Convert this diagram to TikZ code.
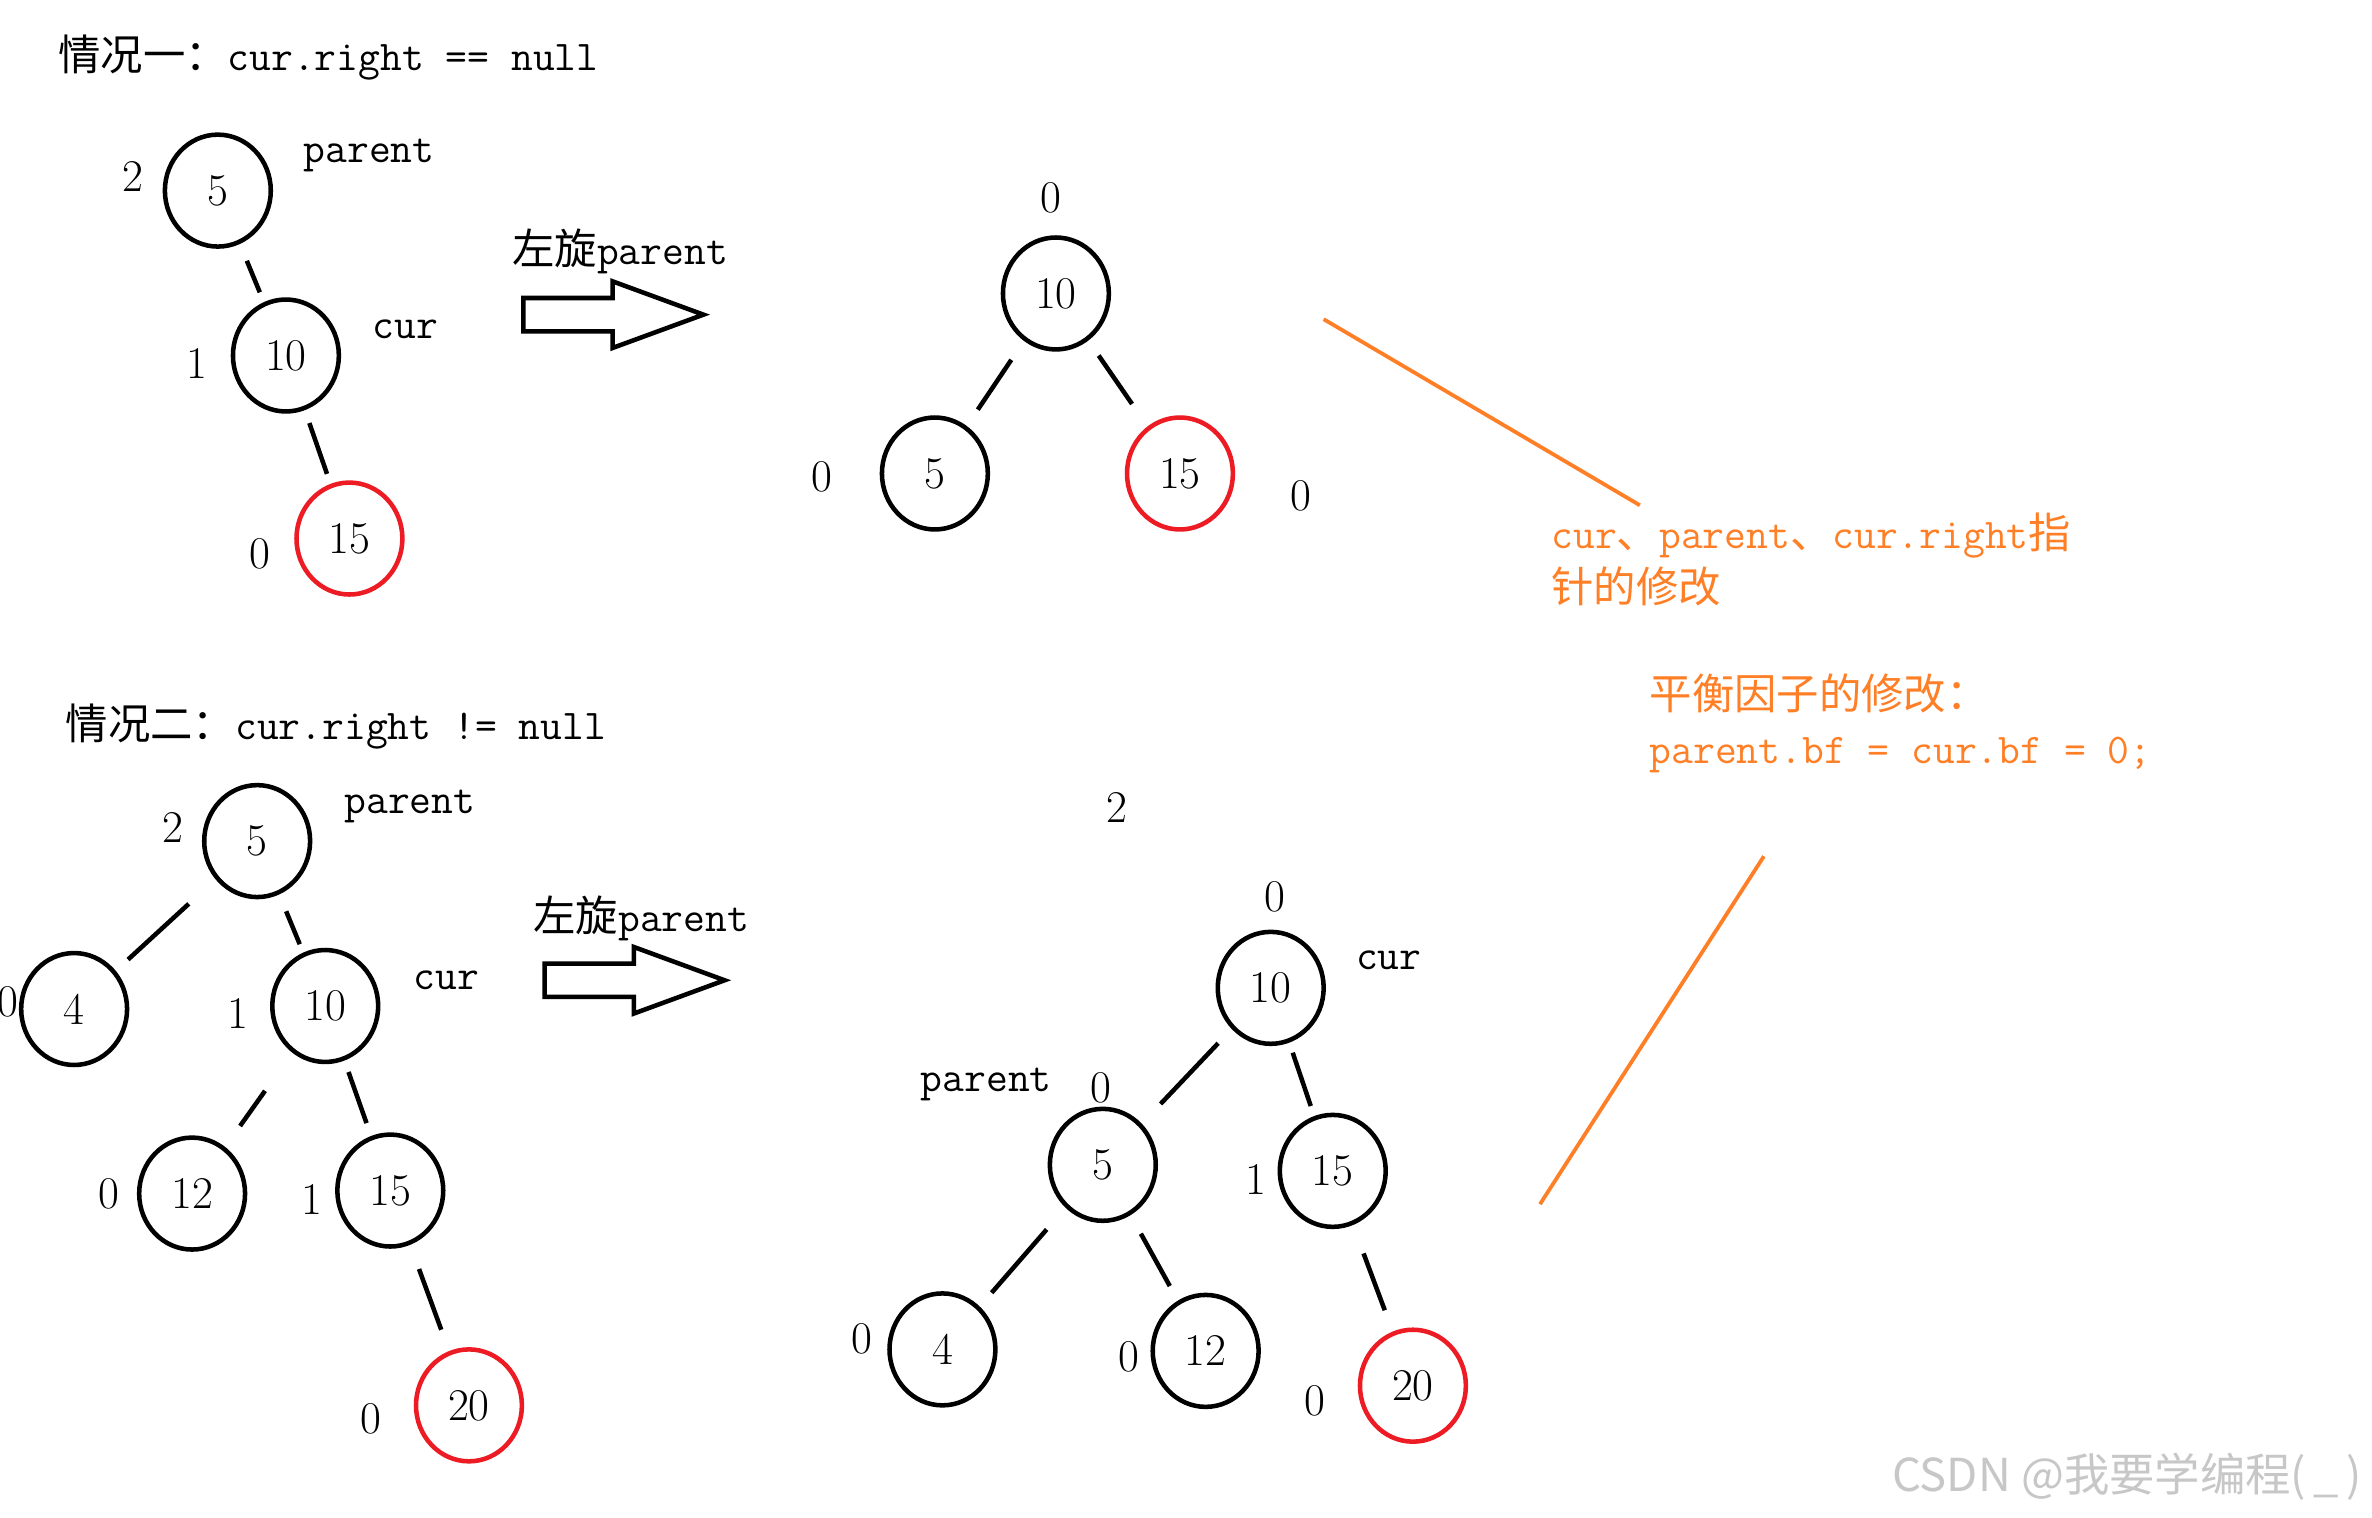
\documentclass[tikz,border=0pt]{standalone}
\usepackage{fontspec}
\newfontfamily\cjk{Noto Sans CJK SC}
\usetikzlibrary{shapes.geometric}
\definecolor{nodered}{RGB}{237,28,36}
\definecolor{noteorange}{RGB}{255,127,39}

\begin{document}
\begin{tikzpicture}[x=1pt, y=-1pt,
	every node/.style={font=\fontsize{30}{36}\selectfont},
	tnode/.style={draw, ellipse, line width=3pt, minimum width=70pt, minimum height=74pt, inner sep=0pt},
	rnode/.style={tnode, draw=nodered},
	link/.style={line width=3pt},
	code/.style={font=\fontsize{28}{34}\selectfont\ttfamily},
	note/.style={text=noteorange, align=left, font=\fontsize{28}{36}\selectfont\ttfamily},
	noteline/.style={draw=noteorange, line width=2.5pt},
	bigarrow/.style={line width=3pt, line join=miter}]
	\path[fill=white, use as bounding box] (0,0) rectangle (1568,1003);

	\node[code, anchor=west] (title1) at (35,38) {{\cjk 情况一：}cur.right == null};
	\node[tnode] (a5) at (144,126) {5};
	\node[tnode] (a10) at (189,235) {10};
	\node[rnode] (a15) at (231,356) {15};
	\node (a5bf) at (88,117) {2};
	\node (a10bf) at (130,240) {1};
	\node (a15bf) at (172,366) {0};
	\node[code] (a5tag) at (244,103) {parent};
	\node[code] (a10tag) at (268,218) {cur};
	\draw[link, shorten <=12pt, shorten >=7pt] (a5) -- (a10);
	\draw[link, shorten <=9pt, shorten >=7pt] (a10) -- (a15);

	\node[code] (rot1tag) at (410,166) {{\cjk 左旋}parent};
	\coordinate (rot1) at (346,208);
	\coordinate (rot2) at (360,648);
	\foreach \a in {rot1,rot2}
		\draw[bigarrow] (\a) ++(0,-11) -- ++(59,0) -- ++(0,-11) -- ++(60,22) -- ++(-60,22) -- ++(0,-11) -- ++(-59,0) -- cycle;

	\node[tnode] (b10) at (698,194) {10};
	\node[tnode] (b5) at (618,313) {5};
	\node[rnode] (b15) at (780,313) {15};
	\node (b10bf) at (695,131) {0};
	\node (b5bf) at (543,315) {0};
	\node (b15bf) at (860,328) {0};
	\draw[link, shorten <=15pt, shorten >=13pt] (b10) -- (b5);
	\draw[link, shorten <=12pt, shorten >=18pt] (b10) -- (b15);

	\node[note, anchor=west] (note1) at (1022,370) {cur{\cjk 、}parent{\cjk 、}cur.right{\cjk 指}\\{\cjk 针的修改}};
	\node[note, anchor=west] (note2) at (1087,478) {{\cjk 平衡因子的修改：}\\parent.bf = cur.bf = 0;};
	\coordinate (n1a) at (875,211);
	\coordinate (n1b) at (1084,334);
	\coordinate (n2a) at (1166,566);
	\coordinate (n2b) at (1018,796);
	\draw[noteline] (n1a) -- (n1b);
	\draw[noteline] (n2a) -- (n2b);

	\node[code, anchor=west] (title2) at (40,480) {{\cjk 情况二：}cur.right != null};
	\node[tnode] (c5) at (170,556) {5};
	\node[tnode] (c4) at (49,667) {4};
	\node[tnode] (c10) at (215,665) {10};
	\node[tnode] (c12) at (127,789) {12};
	\node[tnode] (c15) at (258,787) {15};
	\node[rnode] (c20) at (310,929) {20};
	\node (c5bf) at (114,547) {2};
	\node (c4bf) at (5,662) {0};
	\node (c10bf) at (157,670) {1};
	\node (c12bf) at (72,789) {0};
	\node (c15bf) at (206,793) {1};
	\node (c20bf) at (245,938) {0};
	\node[code] (c5tag) at (271,533) {parent};
	\node[code] (c10tag) at (295,648) {cur};
	\draw[link, shorten <=24pt, shorten >=11pt] (c5) -- (c4);
	\draw[link, shorten <=12pt, shorten >=6pt] (c5) -- (c10);
	\draw[link, shorten <=31pt, shorten >=17pt] (c10) -- (c12);
	\draw[link, shorten <=8pt, shorten >=9pt] (c10) -- (c15);
	\draw[link, shorten <=17pt, shorten >=15pt] (c15) -- (c20);

	\node[code] (rot2tag) at (424,607) {{\cjk 左旋}parent};

	\node (dtop) at (738,534) {2};
	\node[tnode] (d10) at (840,653) {10};
	\node[tnode] (d5) at (729,770) {5};
	\node[tnode] (d15) at (881,774) {15};
	\node[tnode] (d4) at (623,892) {4};
	\node[tnode] (d12) at (797,893) {12};
	\node[rnode] (d20) at (934,916) {20};
	\node (d10bf) at (843,593) {0};
	\node (d5bf) at (728,719) {0};
	\node (d15bf) at (830,780) {1};
	\node (d4bf) at (570,885) {0};
	\node (d12bf) at (746,897) {0};
	\node (d20bf) at (869,926) {0};
	\node[code] (d10tag) at (918,635) {cur};
	\node[code] (d5tag) at (652,717) {parent};
	\draw[link, shorten <=13pt, shorten >=18pt] (d10) -- (d5);
	\draw[link, shorten <=7pt, shorten >=7pt] (d10) -- (d15);
	\draw[link, shorten <=19pt, shorten >=12pt] (d5) -- (d4);
	\draw[link, shorten <=14pt, shorten >=11pt] (d5) -- (d12);
	\draw[link, shorten <=20pt, shorten >=15pt] (d15) -- (d20);

	\node[anchor=east, text=black!22, font=\fontsize{30}{36}\selectfont\cjk] (mark) at (1565,976) {CSDN @我要学编程(\,\_\,)};
\end{tikzpicture}
\end{document}
